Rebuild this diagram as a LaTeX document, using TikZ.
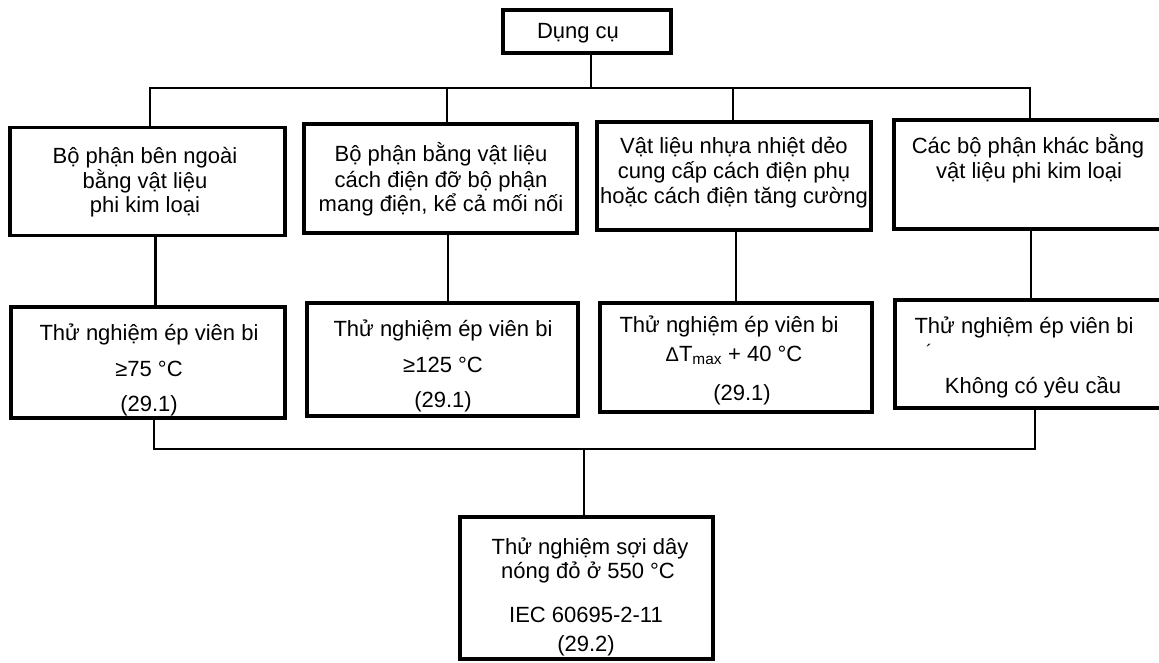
\documentclass[tikz,border=0pt]{standalone}
\usepackage{fontspec}
\setmainfont{Liberation Sans}
\begin{document}
\begin{tikzpicture}[x=1pt,y=-1pt,
  box/.style={draw, line width=3.2pt, inner sep=0pt},
  lbl/.style={anchor=base, inner sep=0pt, font=\fontsize{22}{26}\selectfont},
  wire/.style={line width=2.2pt}]
\useasboundingbox (0,0) rectangle (1159,662);
\clip (0,0) rectangle (1159,662);
\fill[white] (0,0) rectangle (1159,662);

% boxes
\node[box, minimum width=168pt, minimum height=43pt] (top) at (587,31.5) {};
\node[box, minimum width=275pt, minimum height=108pt] (b1) at (147.5,181.5) {};
\node[box, minimum width=273pt, minimum height=109pt] (b2) at (440.5,178.5) {};
\node[box, minimum width=274pt, minimum height=108pt] (b3) at (734,176) {};
\node[box, minimum width=274pt, minimum height=109pt] (b4) at (1031,174.5) {};
\node[box, minimum width=274pt, minimum height=111pt] (l1) at (148,362.5) {};
\node[box, minimum width=271pt, minimum height=113pt] (l2) at (442.5,359.5) {};
\node[box, minimum width=272pt, minimum height=109pt] (l3) at (736,357.5) {};
\node[box, minimum width=274pt, minimum height=108pt] (l4) at (1032,354) {};
\node[box, minimum width=253pt, minimum height=142pt] (fin) at (586.5,588) {};

% texts
\node[lbl] (tt) at (578,38) {Dụng cụ};

\node[lbl] (t1a) at (145,163) {Bộ phận bên ngoài};
\node[lbl] (t1b) at (145,188) {bằng vật liệu};
\node[lbl] (t1c) at (145,212) {phi kim loại};

\node[lbl] (t2a) at (441,161) {Bộ phận bằng vật liệu};
\node[lbl] (t2b) at (441,187) {cách điện đỡ bộ phận};
\node[lbl] (t2c) at (441,211) {mang điện, kể cả mối nối};

\node[lbl] (t3a) at (734,153) {Vật liệu nhựa nhiệt dẻo};
\node[lbl] (t3b) at (734,178) {cung cấp cách điện phụ};
\node[lbl] (t3c) at (734,203) {hoặc cách điện tăng cường};

\node[lbl] (t4a) at (1028,153) {Các bộ phận khác bằng};
\node[lbl] (t4b) at (1029,178) {vật liệu phi kim loại};

\node[lbl] (u1a) at (149,340) {Thử nghiệm ép viên bi};
\node[lbl] (u1b) at (149,376) {≥75 °C};
\node[lbl] (u1c) at (149,411) {(29.1)};

\node[lbl] (u2a) at (443,336) {Thử nghiệm ép viên bi};
\node[lbl] (u2b) at (443,372) {≥125 °C};
\node[lbl] (u2c) at (443,407) {(29.1)};

\node[lbl] (u3a) at (729,332) {Thử nghiệm ép viên bi};
\node[lbl] (u3b) at (734,361) {{\fontsize{20}{26}\selectfont Δ}T\textsubscript{max} + 40 °C};
\node[lbl] (u3c) at (742,400) {(29.1)};

\node[lbl] (u4a) at (1024,333) {Thử nghiệm ép viên bi};
\node[lbl, font=\fontsize{18}{18}\selectfont] (u4m) at (929,357) {´};
\node[lbl] (u4b) at (1033,393) {Không có yêu cầu};

\node[lbl] (fa) at (590,554) {Thử nghiệm sợi dây};
\node[lbl] (fb) at (588,578) {nóng đỏ ở 550 °C};
\node[lbl] (fc) at (586,622) {IEC 60695-2-11};
\node[lbl] (fd) at (586,651) {(29.2)};

% connectors
\coordinate (tbus) at (591,88);
\coordinate (bbus) at (584,449);
\coordinate (d1) at ([xshift=2.5pt]b1.north);
\coordinate (d2) at ([xshift=6.5pt]b2.north);
\coordinate (d3) at ([xshift=-1pt]b3.north);
\coordinate (d4) at ([xshift=-1pt]b4.north);
\draw[wire] (top.south -| tbus) -- (tbus);
\draw[wire] (d1) |- (tbus) -| (d4);
\draw[wire] (d2) -- (d2 |- tbus);
\draw[wire] (d3) -- (d3 |- tbus);

\coordinate (v1) at ([xshift=8pt]b1.south);
\coordinate (v2) at ([xshift=7.5pt]b2.south);
\coordinate (v3) at ([xshift=2pt]b3.south);
\coordinate (v4) at (b4.south);
\draw[wire] (v1) -- (v1 |- l1.north);
\draw[wire] (v2) -- (v2 |- l2.north);
\draw[wire] (v3) -- (v3 |- l3.north);
\draw[wire] (v4) -- (v4 |- l4.north);

\coordinate (w1) at ([xshift=6pt]l1.south);
\coordinate (w4) at ([xshift=3pt]l4.south);
\draw[wire] (w1) |- (bbus) -| (w4);
\draw[wire] (bbus) -- (bbus |- fin.north);
\end{tikzpicture}
\end{document}
